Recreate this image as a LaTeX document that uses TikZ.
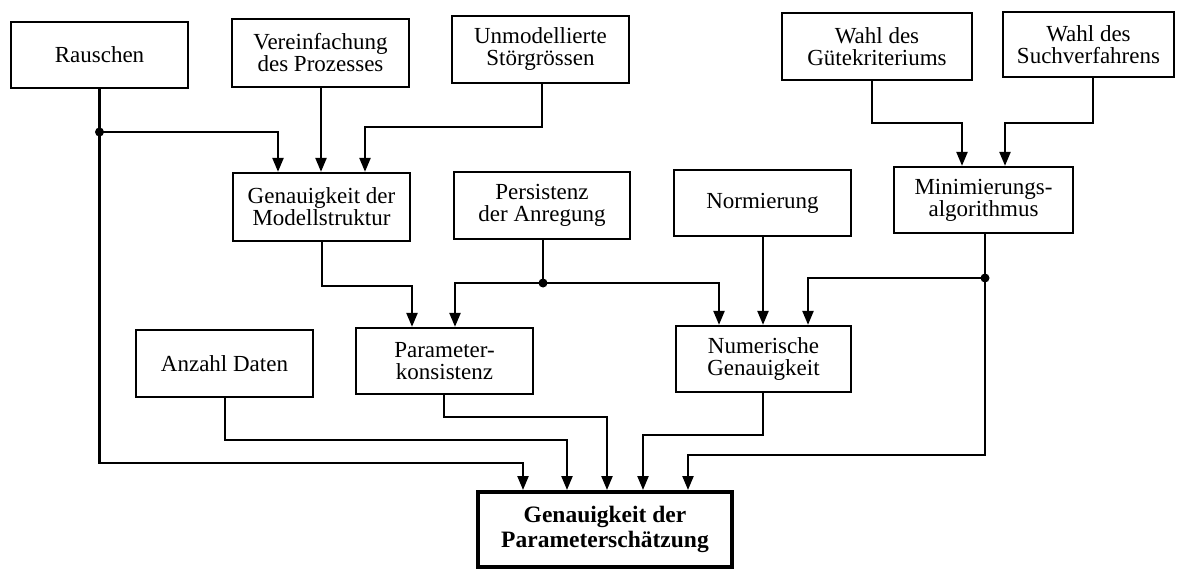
\documentclass[tikz,border=0pt]{standalone}
\usepackage{fontspec}
\setmainfont{Liberation Serif}
\usetikzlibrary{arrows.meta}
\begin{document}
\begin{tikzpicture}[x=1pt,y=-1pt,
  box/.style={draw, line width=2.3pt, inner sep=0pt, align=center,
    font=\fontsize{23}{22}\selectfont},
  conn/.style={line width=2.3pt},
  arr/.style={conn, -{Triangle[width=11pt,length=14pt]}},
  dot/.style={fill=black}]
\fill[white] (0,0) rectangle (1177,569);
\useasboundingbox (0,0) rectangle (1177,569);
% nodes
\node[box, minimum width=177pt, minimum height=66pt] (rau) at (99.5,55) {Rauschen};
\node[box, minimum width=177pt, minimum height=68pt] (ver) at (320.5,53) {Vereinfachung\\des Prozesses};
\node[box, minimum width=177pt, minimum height=67pt] (unm) at (540.5,49.5) {Unmodellierte\\Störgrössen};
\node[box, minimum width=190pt, minimum height=67pt] (wgk) at (877,46.5) {Wahl des\\Gütekriteriums};
\node[box, minimum width=171pt, minimum height=65pt] (wsv) at (1088.5,44.5) {Wahl des\\Suchverfahrens};
\node[box, minimum width=177pt, minimum height=68pt] (gmo) at (321.5,207) {Genauigkeit der\\Modellstruktur};
\node[box, minimum width=176pt, minimum height=67pt] (per) at (542,205.5) {Persistenz\\der Anregung};
\node[box, minimum width=177pt, minimum height=66pt] (nor) at (762.5,203) {Normierung};
\node[box, minimum width=179pt, minimum height=66pt] (min) at (983.5,200) {Minimierungs-\\algorithmus};
\node[box, minimum width=177pt, minimum height=67pt] (anz) at (224.5,363.5) {Anzahl Daten};
\node[box, minimum width=177pt, minimum height=66pt] (par) at (444.5,361) {Parameter-\\konsistenz};
\node[box, minimum width=175pt, minimum height=66pt] (num) at (763.5,359) {Numerische\\Genauigkeit};
\node[box, line width=4pt, minimum width=254pt, minimum height=75pt, font=\fontsize{23.5}{25}\selectfont\bfseries] (bot) at (605,529.5) {Genauigkeit der\\Parameterschätzung};
% connectors
\draw[conn] (rau.south) -- (rau.south |- 0,132) coordinate (jr);
\fill[dot] (jr) circle (4.5pt);
\draw[arr] (jr) -| (gmo.north -| 278,0);
\draw[arr] (jr) |- (523,463) -- (bot.north -| 523,0);
\draw[arr] (ver.south -| 321,0) -- (gmo.north -| 321,0);
\draw[arr] (unm.south -| 542,0) |- (365,127) -- (gmo.north -| 365,0);
\draw[arr] (gmo.south -| 322,0) |- (412,286) -- (par.north -| 412,0);
\draw[conn] (per.south -| 543,0) -- (543,283) coordinate (jp);
\fill[dot] (jp) circle (4.5pt);
\draw[arr] (jp) -| (par.north -| 455,0);
\draw[arr] (jp) -| (num.north -| 719,0);
\draw[arr] (nor.south -| 763,0) -- (num.north -| 763,0);
\draw[arr] (wgk.south -| 872,0) |- (962,123) -- (min.north -| 962,0);
\draw[arr] (wsv.south -| 1093,0) |- (1005,123) -- (min.north -| 1005,0);
\draw[conn] (min.south -| 985,0) -- (985,278) coordinate (jm);
\fill[dot] (jm) circle (4.5pt);
\draw[arr] (jm) -| (num.north -| 808,0);
\draw[arr] (jm) |- (688,455) -- (bot.north -| 688,0);
\draw[arr] (anz.south -| 225,0) |- (567,440) -- (bot.north -| 567,0);
\draw[arr] (par.south -| 444,0) |- (607,417) -- (bot.north -| 607,0);
\draw[arr] (num.south -| 763,0) |- (643,435) -- (bot.north -| 643,0);
\end{tikzpicture}
\end{document}
